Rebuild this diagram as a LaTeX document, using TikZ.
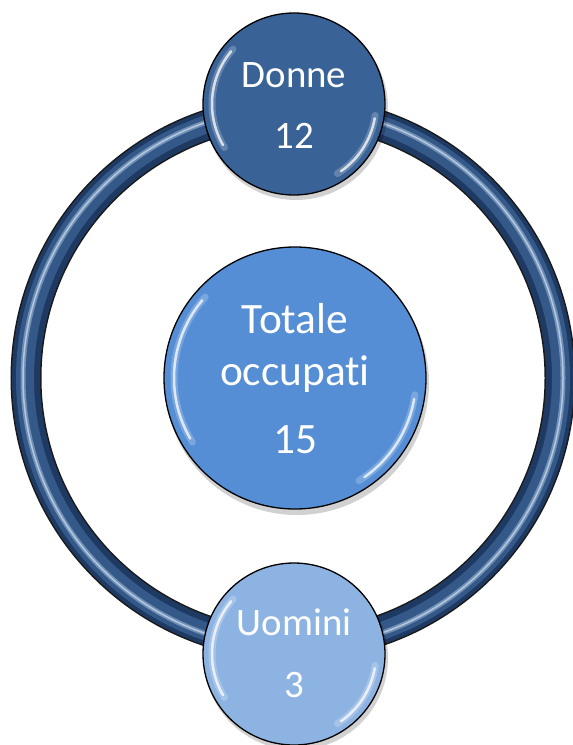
\documentclass[tikz,border=0pt]{standalone}
\usepackage{fontspec}
\setmainfont{Carlito}[Ligatures=NoCommon]
\definecolor{ringdark}{RGB}{30,58,98}
\definecolor{ringmid}{RGB}{52,88,136}
\definecolor{ringlight}{RGB}{150,180,215}
\definecolor{topblue}{RGB}{57,98,150}
\definecolor{midblue}{RGB}{85,142,213}
\definecolor{lowblue}{RGB}{141,179,226}
\begin{document}
\begin{tikzpicture}[x=1bp,y=-1bp,
  ball/.style={circle, draw=black, line width=1.3bp, inner sep=0pt},
  shade/.style={circle, fill=black, opacity=0.18, inner sep=0pt},
  glosswide/.style={white, line width=7bp, opacity=0.22, line cap=round},
  gloss/.style={white, line width=2.5bp, opacity=0.75, line cap=round},
  lbl/.style={text=white, anchor=base, inner sep=0pt},
  big/.style={font=\fontsize{39}{47}\selectfont},
  bigger/.style={font=\fontsize{43.5}{52}\selectfont}
]
\useasboundingbox (0,0) rectangle (573,745);
\coordinate (c) at (293,378);
% ring
\draw[line width=31bp, black!90] (c) circle[radius=267];
\draw[line width=28bp, ringdark] (c) circle[radius=267];
\draw[line width=18bp, ringmid] (c) circle[radius=268];
\draw[line width=5bp, ringlight, opacity=0.6] (c) circle[radius=270];
\draw[line width=1.5bp, white, opacity=0.5] (c) circle[radius=270];
% shadows
\node[shade, minimum size=184bp] at (296,108) {};
\node[shade, minimum size=264bp] at (297,383) {};
\node[shade, minimum size=184bp] at (296,658) {};
% balls
\node[ball, fill=topblue, minimum size=182bp] (donne) at (294,104) {};
\node[ball, fill=midblue, minimum size=262bp] (tot) at (295,378) {};
\node[ball, fill=lowblue, minimum size=182bp] (uomini) at (294,654) {};
% gloss
\foreach \b/\r in {donne/82, tot/121, uomini/82}{
  \draw[glosswide] ([shift={(148:\r)}]\b.center) arc[start angle=148, end angle=222, radius=\r];
  \draw[gloss] ([shift={(150:\r)}]\b.center) arc[start angle=150, end angle=220, radius=\r];
  \draw[glosswide] ([shift={(8:\r)}]\b.center) arc[start angle=8, end angle=58, radius=\r];
  \draw[gloss] ([shift={(10:\r)}]\b.center) arc[start angle=10, end angle=55, radius=\r];
}
% labels
\node[lbl, big] (l1) at (294,87) {Donne};
\node[lbl, big] (l2) at (294,148) {12};
\node[lbl, bigger] (l3) at (295,333) {Totale};
\node[lbl, bigger] (l4) at (295,385) {occupat\kern0pt i};
\node[lbl, bigger] (l5) at (295,453) {15};
\node[lbl, big] (l6) at (294,635) {Uomini};
\node[lbl, big] (l7) at (294,697) {3};
\end{tikzpicture}
\end{document}
